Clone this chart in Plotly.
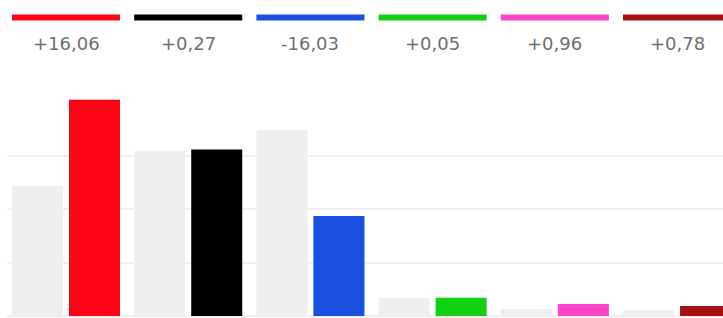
import plotly.graph_objects as go

# ---- data ----
parties = ["A", "B", "C", "D", "E", "F"]
previous = [24.34, 30.83, 34.73, 3.35, 1.29, 1.07]
current = [40.40, 31.10, 18.70, 3.40, 2.25, 1.85]
change_labels = ["+16,06", "+0,27", "-16,03", "+0,05", "+0,96", "+0,78"]
colors = ["#ff0317", "#000000", "#1a50e0", "#12d012", "#ff44cc", "#a51111"]
grey = "#efefef"

W, H = 723, 318
ML, MB = 7, 2
bargap = 0.067
groupgap = 0.105
half_group = (1 - bargap) / 2 * (1 - groupgap / 2)  # half of visible group span

fig = go.Figure()
fig.add_trace(go.Bar(x=parties, y=previous, marker=dict(color=grey, line=dict(width=0)),
                     hoverinfo="skip"))
fig.add_trace(go.Bar(x=parties, y=current, marker=dict(color=colors, line=dict(width=0)),
                     hoverinfo="skip"))

plot_h = H - MB
for i, (lab, col) in enumerate(zip(change_labels, colors)):
    fig.add_shape(type="line", xref="x", yref="paper",
                  x0=i - half_group, x1=i + half_group,
                  y0=1 - 17.5 / plot_h, y1=1 - 17.5 / plot_h,
                  line=dict(color=col, width=6))
    fig.add_annotation(x=i, xref="x", y=1 - 44 / plot_h, yref="paper",
                       text=lab, showarrow=False, yanchor="middle", xanchor="center",
                       font=dict(family="DejaVu Sans", size=18, color="#6f6f6f"))

px_per_unit = 5.35
fig.update_layout(
    width=W, height=H,
    margin=dict(l=ML, r=0, t=0, b=MB),
    paper_bgcolor="white", plot_bgcolor="white",
    barmode="group", bargap=bargap, bargroupgap=groupgap,
    showlegend=False,
    xaxis=dict(range=[-0.4828, 5.376], showticklabels=False, showgrid=False,
               zeroline=False, showline=False, ticks=""),
    yaxis=dict(range=[0, plot_h / px_per_unit], tickvals=[10, 20, 30],
               showticklabels=False, showgrid=True, gridcolor="#f0f0f0", gridwidth=2,
               zeroline=True, zerolinecolor="#eeeeee", zerolinewidth=1.5,
               showline=False, ticks=""),
)

fig.write_html("out.html", config={"displayModeBar": False},
               post_script="document.body.style.margin='0';")
